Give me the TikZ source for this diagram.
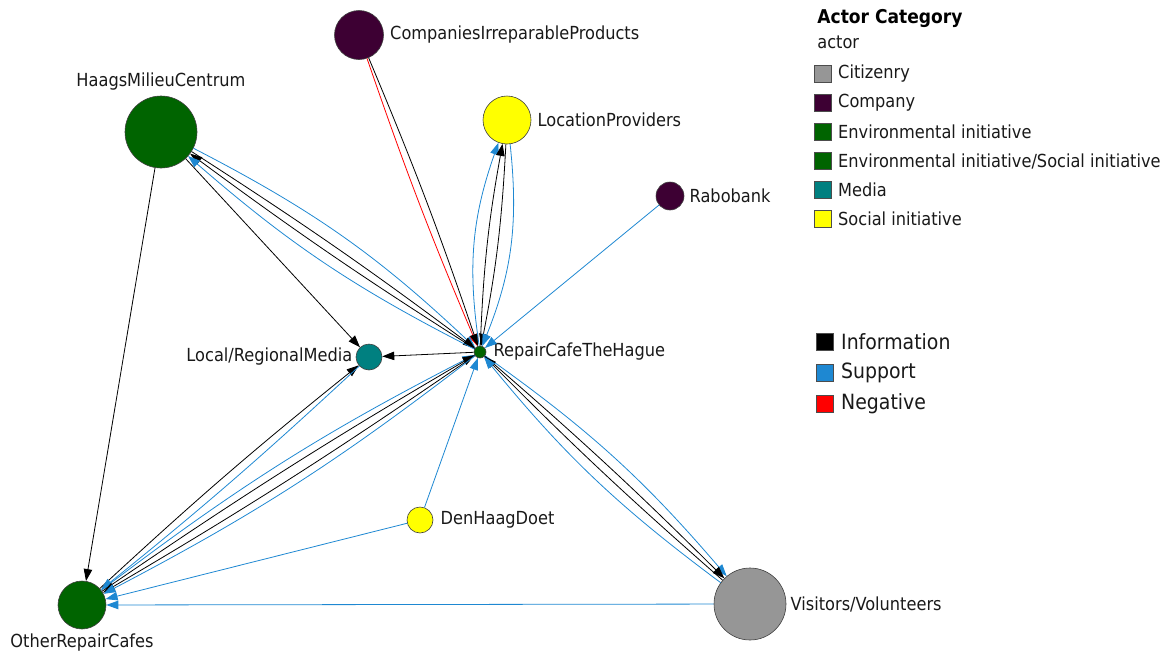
\documentclass[tikz,border=0pt]{standalone}
\usepackage{fontspec}
\setmainfont{DejaVu Sans Condensed}
\usetikzlibrary{arrows.meta,positioning}
\definecolor{citizen}{RGB}{150,150,150}
\definecolor{company}{RGB}{61,0,51}
\definecolor{envgreen}{RGB}{0,100,0}
\definecolor{media}{RGB}{0,128,128}
\definecolor{social}{RGB}{255,255,0}
\definecolor{supportblue}{RGB}{30,136,210}

\begin{document}
\begin{tikzpicture}[x=1pt,y=1pt,>={Triangle[length=12pt,width=8.5pt]},
    line width=0.8pt,
    actor/.style={circle,draw=black!75,line width=0.6pt,inner sep=0pt},
    lbl/.style={inner sep=0pt,font=\fontsize{18}{21}\selectfont,text=black!90},
    info/.style={->,draw=black},
    support/.style={->,draw=supportblue},
    negative/.style={->,draw=red},
    legbox/.style={draw=black!70,line width=0.6pt,minimum size=17pt,inner sep=0pt}]
    \useasboundingbox (0,0) rectangle (1165,-654);
    % actors
    \node[actor, fill=company, minimum size=49pt] (comp) at (359,-35) {};
    \node[actor, fill=envgreen, minimum size=72pt] (hmc) at (161,-132) {};
    \node[actor, fill=social, minimum size=48pt] (loc) at (507,-120) {};
    \node[actor, fill=company, minimum size=28pt] (rabo) at (670,-196) {};
    \node[actor, fill=media, minimum size=26pt] (media) at (369,-357) {};
    \node[actor, fill=envgreen, minimum size=12pt] (rc) at (480,-352) {};
    \node[actor, fill=social, minimum size=26pt] (dhd) at (420,-520) {};
    \node[actor, fill=envgreen, minimum size=48pt] (orc) at (82,-605) {};
    \node[actor, fill=citizen, minimum size=72pt] (vis) at (750,-604) {};
    % labels
    \node[lbl, right=6pt of comp] (compL) {CompaniesIrreparableProducts};
    \node[lbl, above=5pt of hmc] (hmcL) {HaagsMilieuCentrum};
    \node[lbl, right=6pt of loc] (locL) {LocationProviders};
    \node[lbl, right=5pt of rabo] (raboL) {Rabobank};
    \node[lbl, left=3pt of media] (mediaL) {Local/RegionalMedia};
    \node[lbl, right=7pt of rc] (rcL) {RepairCafeTheHague};
    \node[lbl, right=7pt of dhd] (dhdL) {DenHaagDoet};
    \node[lbl, below=4pt of orc] (orcL) {OtherRepairCafes};
    \node[lbl, right=4pt of vis] (visL) {Visitors/Volunteers};
    % ties
    \path
    (comp) edge[negative, bend right=2] (rc)
    (comp) edge[info, bend left=2] (rc)
    (hmc) edge[support, bend left=8] (rc)
    (hmc) edge[info, bend left=2] (rc)
    (rc) edge[info, bend left=2] (hmc)
    (rc) edge[support, bend left=7] (hmc)
    (hmc) edge[info] (orc)
    (hmc) edge[info] (media)
    (rc) edge[info] (media)
    (rc) edge[support, bend left=14] (loc)
    (rc) edge[info, bend left=4] (loc)
    (loc) edge[info, bend left=4] (rc)
    (loc) edge[support, bend left=14] (rc)
    (rabo) edge[support] (rc)
    (orc) edge[info, bend left=2] (media)
    (media) edge[support, bend left=2] (orc)
    (orc) edge[support, bend left=5] (rc)
    (orc) edge[info, bend left=2] (rc)
    (rc) edge[info, bend left=2] (orc)
    (rc) edge[support, bend left=5] (orc)
    (dhd) edge[support] (rc)
    (dhd) edge[support] (orc)
    (vis) edge[support] (orc)
    (rc) edge[support, bend left=7] (vis)
    (rc) edge[info, bend left=2] (vis)
    (vis) edge[info, bend left=2] (rc)
    (vis) edge[support, bend left=7] (rc)
    ;
    % legend
    \node[inner sep=0pt, anchor=west, font=\bfseries\fontsize{19}{22}\selectfont] (legTitle) at (817,-18) {Actor Category};
    \node[lbl, anchor=west] (legSub) at (817,-42) {actor};
    \node[legbox, fill=citizen] (lgCit) at (823,-74) {};
    \node[lbl, right=6pt of lgCit] (lgCitT) {Citizenry};
    \node[legbox, fill=company] (lgComp) at (823,-103) {};
    \node[lbl, right=6pt of lgComp] (lgCompT) {Company};
    \node[legbox, fill=envgreen] (lgEnv) at (823,-132) {};
    \node[lbl, right=6pt of lgEnv] (lgEnvT) {Environmental initiative};
    \node[legbox, fill=envgreen] (lgEnvSoc) at (823,-161) {};
    \node[lbl, right=6pt of lgEnvSoc] (lgEnvSocT) {Environmental initiative/Social initiative};
    \node[legbox, fill=media] (lgMedia) at (823,-190) {};
    \node[lbl, right=6pt of lgMedia] (lgMediaT) {Media};
    \node[legbox, fill=social] (lgSoc) at (823,-219) {};
    \node[lbl, right=6pt of lgSoc] (lgSocT) {Social initiative};
    \node[legbox, fill=black] (lgInfo) at (825,-342) {};
    \node[lbl, right=7pt of lgInfo, font=\fontsize{21}{24}\selectfont] (lgInfoT) {Information};
    \node[legbox, fill=supportblue] (lgSup) at (825,-373) {};
    \node[lbl, right=7pt of lgSup, font=\fontsize{21}{24}\selectfont] (lgSupT) {Support};
    \node[legbox, fill=red] (lgNeg) at (825,-404) {};
    \node[lbl, right=7pt of lgNeg, font=\fontsize{21}{24}\selectfont] (lgNegT) {Negative};
\end{tikzpicture}
\end{document}
